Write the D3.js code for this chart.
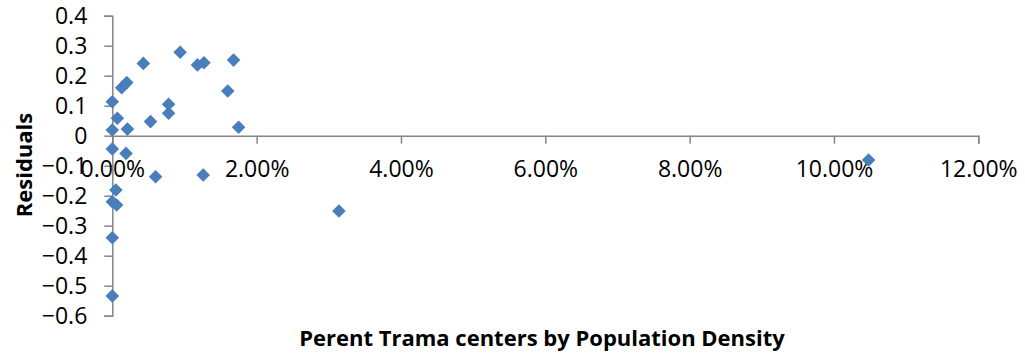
<!DOCTYPE html>
<html>
<head>
<meta charset="utf-8">
<script src="https://cdn.jsdelivr.net/npm/d3@7"></script>
<style>
  html, body { margin: 0; padding: 0; background: #fff; }
  svg { display: block; }
  text { font-family: "Open Sans", "Liberation Sans", sans-serif; fill: #000; }
</style>
</head>
<body>
<svg id="chart" width="1025" height="356"></svg>
<script>
// Share of trauma centers by population density (as a fraction)
const pctTrauma = [
  0.0000, 0.0007, 0.0000, 0.0021, 0.0013, 0.0020, 0.0043, 0.0053,
  0.0078, 0.0078, 0.0094, 0.0118, 0.0127, 0.0168, 0.0160, 0.0175,
  0.0000, 0.0019, 0.0060, 0.0126, 0.0005, 0.0000, 0.0006, 0.0000,
  0.0000, 0.0314, 0.1048
];
// Regression residuals for each observation
const residuals = [
  0.113, 0.058, 0.019, 0.022, 0.160, 0.177, 0.241, 0.047,
  0.105, 0.075, 0.278, 0.236, 0.243, 0.252, 0.149, 0.028,
  -0.044, -0.059, -0.137, -0.131, -0.181, -0.220, -0.231, -0.340,
  -0.534, -0.251, -0.081
];
const xTicks = [0, 0.02, 0.04, 0.06, 0.08, 0.10, 0.12];
const yTicks = [-0.6, -0.5, -0.4, -0.3, -0.2, -0.1, 0, 0.1, 0.2, 0.3, 0.4];
const xTitle = "Perent Trama centers by Population Density";
const yTitle = "Residuals";

const svg = d3.select("#chart");
const axisColor = "#868686";
const markColor = "#4a7ebb";
const tickFont = 23;

const x = d3.scaleLinear().domain([0, 0.12]).range([112.3, 978.3]);
const y = d3.scaleLinear().domain([-0.6, 0.4]).range([315.7, 15.7]);

function styleAxis(g) {
  g.select(".domain").attr("stroke", axisColor).attr("stroke-width", 1.5);
  g.selectAll(".tick line").attr("stroke", axisColor).attr("stroke-width", 1.5);
  g.selectAll(".tick text").attr("font-size", tickFont).attr("fill", "#000")
    .style("font-family", "'Open Sans', sans-serif");
}

// Vertical axis at x = 0
svg.append("g")
  .attr("transform", `translate(${x(0)},0)`)
  .call(d3.axisLeft(y).tickValues(yTicks).tickSize(8).tickPadding(17)
    .tickFormat(d => d === 0 ? "0" : d3.format(".1f")(d)))
  .call(styleAxis);

// Horizontal axis crossing at residual = 0
svg.append("g")
  .attr("transform", `translate(0,${y(0)})`)
  .call(d3.axisBottom(x).tickValues(xTicks).tickSize(8).tickPadding(17)
    .tickFormat(d3.format(".2%")))
  .call(styleAxis);

// Diamond markers
const diamond = d3.symbol().type(d3.symbolDiamond2).size(118);
svg.append("g").selectAll("path")
  .data(pctTrauma.map((v, i) => [v, residuals[i]]))
  .join("path")
  .attr("d", diamond)
  .attr("transform", d => `translate(${x(d[0])},${y(d[1])})`)
  .attr("fill", markColor);

// Axis titles
svg.append("text")
  .attr("x", 542).attr("y", 346)
  .attr("text-anchor", "middle")
  .attr("font-size", 22).attr("font-weight", "bold")
  .text(xTitle);

svg.append("text")
  .attr("transform", "translate(32,165) rotate(-90)")
  .attr("text-anchor", "middle")
  .attr("font-size", 22).attr("font-weight", "bold")
  .text(yTitle);
</script>
</body>
</html>
